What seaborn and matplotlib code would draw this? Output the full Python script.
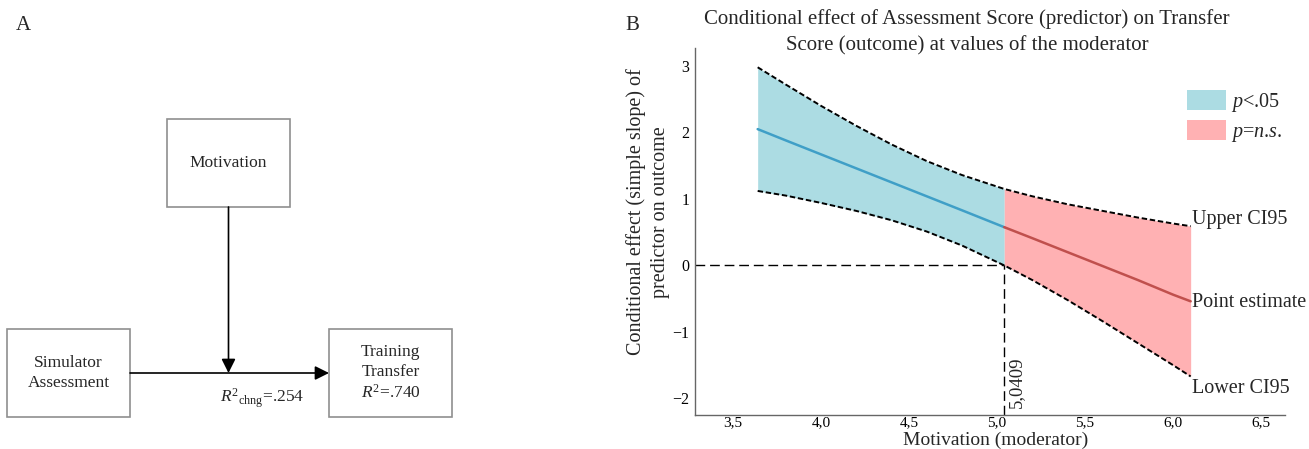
import pandas as pd
import seaborn as sns
import matplotlib.pyplot as plt
from matplotlib.patches import Rectangle, Patch

# values (panel B)
motivation = [3.64, 3.80, 4.00, 4.20, 4.40, 4.60, 4.80, 5.0409,
              5.20, 5.40, 5.60, 5.80, 6.00, 6.10]
estimate = [2.05, 1.88, 1.67, 1.46, 1.25, 1.04, 0.83, 0.575,
            0.41, 0.20, -0.01, -0.22, -0.44, -0.54]
upper_ci = [2.98, 2.72, 2.40, 2.10, 1.82, 1.57, 1.36, 1.15,
            1.04, 0.92, 0.82, 0.72, 0.63, 0.59]
lower_ci = [1.12, 1.05, 0.94, 0.82, 0.68, 0.51, 0.30, 0.00,
            -0.22, -0.52, -0.84, -1.17, -1.50, -1.67]
jn_point = 5.0409

x_ticks = [3.5, 4.0, 4.5, 5.0, 5.5, 6.0, 6.5]
x_tick_labels = ["3,5", "4,0", "4,5", "5,0", "5,5", "6,0", "6,5"]
y_ticks = [-2, -1, 0, 1, 2, 3]
x_lim = (3.284, 6.636)
y_lim = (-2.25, 3.27)

sig_fill = "#acdce3"
ns_fill = "#ffb1b3"
sig_line = "#3f9fc7"
ns_line = "#c0504d"
box_edge = "#8f8f8f"

sns.set_style("white")
plt.rcParams["font.family"] = ["Liberation Serif", "DejaVu Serif"]
plt.rcParams["mathtext.fontset"] = "custom"
plt.rcParams["mathtext.rm"] = "Liberation Serif"
plt.rcParams["mathtext.it"] = "Liberation Serif:italic"
plt.rcParams["axes.unicode_minus"] = True

# prepare data
ci = pd.DataFrame({"motivation": motivation, "estimate": estimate,
                   "upper": upper_ci, "lower": lower_ci})
ci["region"] = ["sig" if m <= jn_point else "ns" for m in ci["motivation"]]
# boundary row goes in both halves so line and bands meet
edge = ci[ci["motivation"] == jn_point].assign(region="ns")
df = pd.concat([ci, edge], ignore_index=True).sort_values("motivation", kind="stable")

W, H = 1309, 449
fig = plt.figure(figsize=(W / 100, H / 100), dpi=100)


def fx(px):
    return px / W


def fy(py):
    return 1 - py / H


# ---- panel A: moderation diagram ----
axd = fig.add_axes([0, 0, 615 / W, 1])
axd.set_xlim(0, 615)
axd.set_ylim(H, 0)
axd.axis("off")

boxes = {
    "Motivation": (167, 119, 123, 88),
    "Simulator\nAssessment": (7, 329, 123, 88),
    "Training\nTransfer\n$R^2$=.740": (329, 329, 123, 88),
}
for label, (bx, by, bw, bh) in boxes.items():
    axd.add_patch(Rectangle((bx, by), bw, bh, fill=False, ec=box_edge, lw=1.2))
    axd.text(bx + bw / 2, by + bh / 2, label, ha="center", va="center",
             fontsize=12.5, linespacing=1.3)

arrow = dict(arrowstyle="-|>,head_length=0.6,head_width=0.3", color="black",
             lw=1.2, mutation_scale=14, shrinkA=0, shrinkB=0)
axd.annotate("", xy=(329, 373), xytext=(130, 373), arrowprops=arrow)
axd.annotate("", xy=(228.5, 373), xytext=(228.5, 207), arrowprops=arrow)
axd.text(262.5, 398, r"$R^{2}{}_{\mathrm{chng}}$=.254", ha="center", va="center",
         fontsize=12.5)

# ---- panel B: conditional effect ----
ax = fig.add_axes([fx(695), fy(415), (1285 - 695) / W, (415 - 48) / H])

for region, color in [("sig", sig_fill), ("ns", ns_fill)]:
    sub = df[df["region"] == region]
    ax.fill_between(sub["motivation"], sub["lower"], sub["upper"],
                    color=color, lw=0)

sns.lineplot(data=df, x="motivation", y="estimate", hue="region",
             palette={"sig": sig_line, "ns": ns_line}, legend=False,
             lw=1.8, ax=ax)
for col in ["upper", "lower"]:
    sns.lineplot(data=ci, x="motivation", y=col, color="black", lw=1.4,
                 linestyle=(0, (2.8, 1.4)), ax=ax)

ax.hlines(0, x_lim[0], jn_point, colors="black", lw=1, linestyles=(0, (7, 3.5)))
ax.vlines(jn_point, y_lim[0], 0, colors="black", lw=1, linestyles=(0, (7, 3.5)))
ax.annotate("5,0409", xy=(jn_point, -1.75), xytext=(2.5, 0),
            textcoords="offset points", rotation=90, ha="left", va="center",
            fontsize=13.5)

x_end = motivation[-1]
for text, val, dy in [("Upper CI95", upper_ci[-1], 5),
                      ("Point estimate", estimate[-1], -1),
                      ("Lower CI95", lower_ci[-1], -9)]:
    ax.annotate(text, xy=(x_end, val), xytext=(1, dy), textcoords="offset points",
                ha="left", va="center", fontsize=14.5, annotation_clip=False)

ax.set_xlim(*x_lim)
ax.set_ylim(*y_lim)
ax.set_xticks(x_ticks, x_tick_labels)
ax.set_yticks(y_ticks)
ax.tick_params(axis="x", length=0, pad=1, labelsize=11, colors="black")
ax.tick_params(axis="y", length=0, pad=4, labelsize=11.5, colors="black")
ax.set_xlabel("Motivation (moderator)", fontsize=14)
ax.xaxis.set_label_coords(0.51, -0.0465)
ax.set_ylabel("")
sns.despine(ax=ax)
for s in ["left", "bottom"]:
    ax.spines[s].set_color("#666666")
    ax.spines[s].set_linewidth(1.0)

handles = [Patch(facecolor=sig_fill, edgecolor="none"),
           Patch(facecolor=ns_fill, edgecolor="none")]
ax.legend(handles, ["$p$<.05", "$p$=$n$.$s$."], loc="upper left",
          bbox_to_anchor=(fx(1187), fy(90)), bbox_transform=fig.transFigure,
          frameon=False, fontsize=14.5, handlelength=1.95, handleheight=1.15,
          handletextpad=0.25, labelspacing=0.3, borderpad=0, borderaxespad=0)

fig.text(fx(967), fy(32),
         "Conditional effect of Assessment Score (predictor) on Transfer\n"
         "Score (outcome) at values of the moderator",
         ha="center", va="center", fontsize=15, linespacing=1.5)
fig.text(fx(648), fy(212), "Conditional effect (simple slope) of\npredictor on outcome",
         ha="center", va="center", rotation=90, fontsize=14.5, linespacing=1.3)
fig.text(fx(16), fy(25), "A", fontsize=15, va="center")
fig.text(fx(625), fy(25), "B", fontsize=15, va="center")

fig.savefig("out.png", dpi=100)
